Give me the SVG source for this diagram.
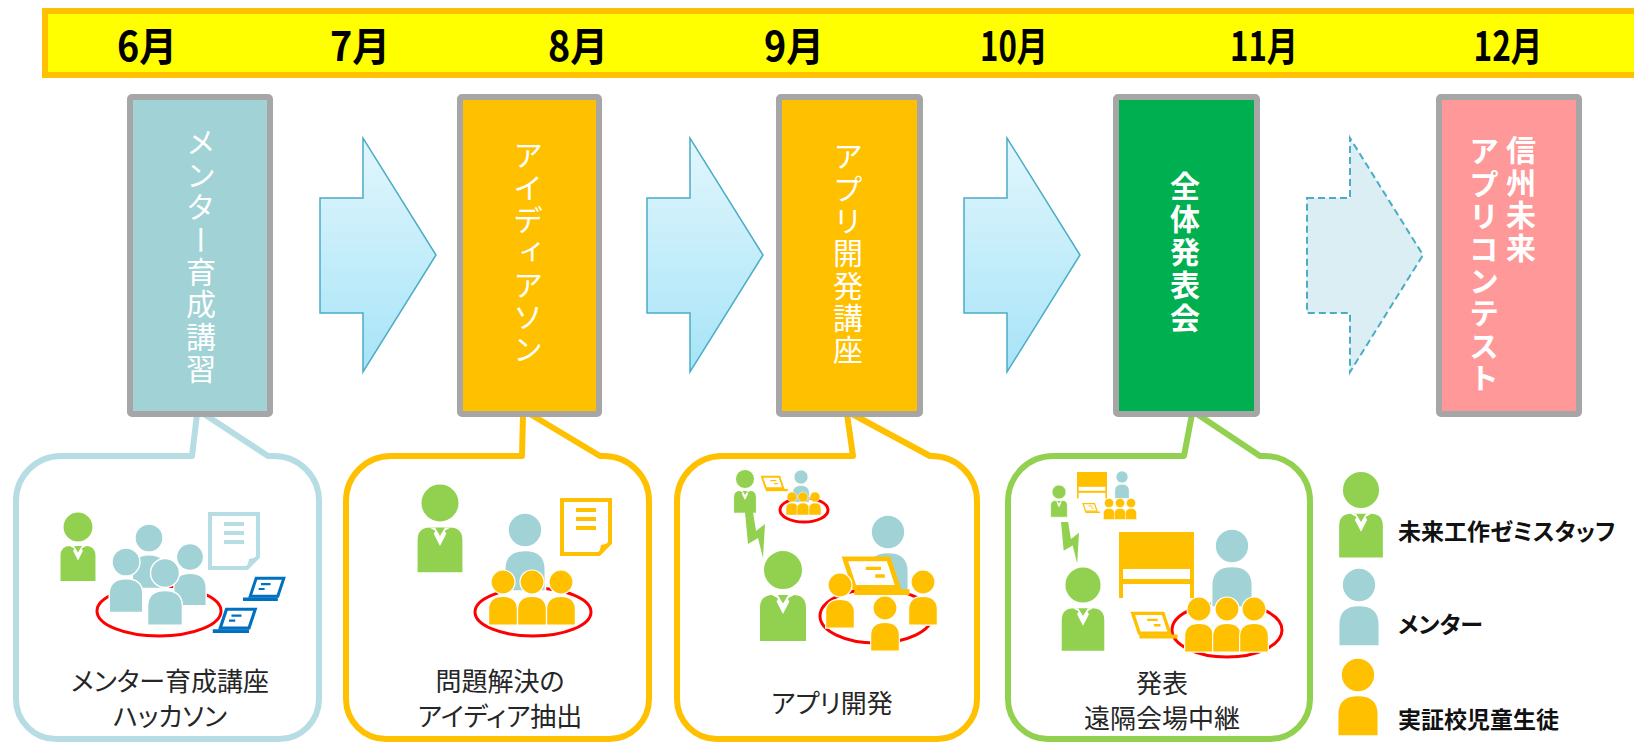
<svg xmlns="http://www.w3.org/2000/svg" xmlns:xlink="http://www.w3.org/1999/xlink" width="1634" height="745" viewBox="0 0 1634 745">
  <style>
    .month { font-family: "Noto Sans CJK JP", "Liberation Sans", sans-serif; font-weight: 700; font-size: 40px; fill: #000; text-anchor: middle; }
    .box { stroke: #A6A6A6; stroke-width: 6; }
    .vtext { font-family: "Noto Sans CJK JP", sans-serif; font-size: 30px; fill: #fff; writing-mode: vertical-rl; letter-spacing: 2.4px; }
    .bubble { fill: #fff; stroke-width: 6; stroke-linejoin: round; }
    .caption { font-family: "Noto Sans CJK JP", sans-serif; font-size: 26px; fill: #262626; text-anchor: middle; font-feature-settings: "palt"; }
    .legend { font-family: "Noto Sans CJK JP", sans-serif; font-size: 23px; font-weight: 700; fill: #111; font-feature-settings: "palt"; }
    .ring { fill: none; stroke: #FF0000; stroke-width: 3; }
    .arrow { fill: url(#arrowFill); stroke: #4BACC6; stroke-width: 1.5; }
    .arrow-next { fill: #DAEEF3; stroke: #4BACC6; stroke-width: 2; stroke-dasharray: 7 4; }
  </style>
  <defs>
    <linearGradient id="arrowFill" x1="0" y1="0" x2="0" y2="1">
      <stop offset="0" stop-color="#E2F6FD"/>
      <stop offset="1" stop-color="#A6E4F7"/>
    </linearGradient>
    <path id="arrowShape" d="M0,198 H43 V138 L116,255 L43,372 V313 H0 Z"/>
    <!-- people: head radius 10 at the origin, body below -->
    <g id="staff" stroke="#fff" stroke-width="1">
      <circle r="10" fill="#92D050"/>
      <path d="M-12,36 V19 Q-12,12 -5,12 H5 Q12,12 12,19 V36 Z" fill="#92D050"/>
      <path d="M-5.5,12.5 L-2.4,14.2 L-3.2,15.8 L0,22 L3.2,15.8 L2.4,14.2 L5.5,12.5 L2.6,12.5 L0,16.8 L-2.6,12.5 Z" fill="#fff" stroke="none"/>
    </g>
    <g id="mentor" fill="#A0D2D6" stroke="#fff" stroke-width="1">
      <circle r="10"/>
      <path d="M-12,36 V23 Q-12,12 0,12 Q12,12 12,23 V36 Z"/>
    </g>
    <g id="student" fill="#FFC000" stroke="#fff" stroke-width="1">
      <circle r="10"/>
      <path d="M-12,36 V23 Q-12,12 0,12 Q12,12 12,23 V36 Z"/>
    </g>
    <!-- laptop drawn in the current stroke colour -->
    <g id="laptop" fill="none">
      <polygon points="6,1 29,1 24,16 1,16" fill="#fff" stroke-width="2.5" stroke-linejoin="miter"/>
      <line x1="-5" y1="18.5" x2="24" y2="18.5" stroke-width="3"/>
      <path d="M10,6 H18 M8,10 H13" stroke-width="1.8"/>
    </g>
    <!-- sheet of paper with a folded corner -->
    <g id="doc">
      <path d="M0,0 H48 V43 L37,54 H0 Z" fill="#fff" stroke="currentColor" stroke-width="4"/>
      <path d="M37,54 L39,45 L48,43 Z" fill="currentColor"/>
      <rect x="14" y="8" width="20" height="4" fill="currentColor"/>
      <rect x="14" y="17" width="20" height="4" fill="currentColor"/>
      <rect x="14" y="26" width="20" height="4" fill="currentColor"/>
    </g>
    <!-- whiteboard on legs -->
    <g id="board" fill="#FFC000">
      <rect x="0" y="0" width="75" height="52"/>
      <rect x="4" y="37" width="67" height="10" fill="#fff"/>
      <rect x="0" y="52" width="4" height="14"/>
      <rect x="71" y="52" width="4" height="14"/>
    </g>
    <polygon id="bolt" points="0,0 8,0 11,19 20,12 18,46 13,26 3,32" fill="#92D050"/>
  </defs>

  <rect width="1634" height="745" fill="#fff"/>

  <!-- month band -->
  <g id="timeline">
    <rect x="45" y="11" width="1620" height="64" fill="#FFFF00" stroke="#FFC000" stroke-width="6"/>
    <text class="month" x="147" y="61" textLength="60" lengthAdjust="spacingAndGlyphs">6月</text>
    <text class="month" x="360" y="61" textLength="60" lengthAdjust="spacingAndGlyphs">7月</text>
    <text class="month" x="578" y="61" textLength="60" lengthAdjust="spacingAndGlyphs">8月</text>
    <text class="month" x="794" y="61" textLength="60" lengthAdjust="spacingAndGlyphs">9月</text>
    <text class="month" x="1014" y="61" textLength="68" lengthAdjust="spacingAndGlyphs">10月</text>
    <text class="month" x="1264" y="61" textLength="68" lengthAdjust="spacingAndGlyphs">11月</text>
    <text class="month" x="1508" y="61" textLength="69" lengthAdjust="spacingAndGlyphs">12月</text>
  </g>

  <!-- callout bubbles (drawn under the boxes so the pointer tips tuck in) -->
  <g id="bubble-mentor">
    <path class="bubble" stroke="#B6DDE3" d="M61,456 H192 L197,414 H204 L268,456 H274 A45,45 0 0 1 319,501 V699 A40,40 0 0 1 279,739 H56 A40,40 0 0 1 16,699 V501 A45,45 0 0 1 61,456 Z"/>
    <ellipse class="ring" cx="159" cy="611" rx="62" ry="25"/>
    <use href="#staff" transform="translate(78,527) scale(1.52)"/>
    <use href="#mentor" transform="translate(149,538) scale(1.4)"/>
    <use href="#mentor" transform="translate(126,562) scale(1.4)"/>
    <use href="#mentor" transform="translate(190,557) scale(1.35)"/>
    <use href="#mentor" transform="translate(165,573) scale(1.45)"/>
    <use href="#doc" color="#B6DDE3" transform="translate(210,514)"/>
    <use href="#laptop" stroke="#0070C0" transform="translate(249,577) scale(1.2)"/>
    <use href="#laptop" stroke="#0070C0" transform="translate(219,608) scale(1.25)"/>
    <text class="caption" x="170" y="691">メンター育成講座</text>
    <text class="caption" x="170" y="726">ハッカソン</text>
  </g>

  <g id="bubble-ideathon">
    <path class="bubble" stroke="#FFC000" d="M391,456 H522 L523,414 H530 L600,456 H604 A45,45 0 0 1 649,501 V699 A40,40 0 0 1 609,739 H386 A40,40 0 0 1 346,699 V501 A45,45 0 0 1 391,456 Z"/>
    <ellipse class="ring" cx="533" cy="612" rx="58" ry="24"/>
    <use href="#staff" transform="translate(440,503) scale(1.95)"/>
    <use href="#mentor" transform="translate(525,530) scale(1.7)"/>
    <use href="#student" transform="translate(503,582) scale(1.2)"/>
    <use href="#student" transform="translate(532,582) scale(1.2)"/>
    <use href="#student" transform="translate(561,582) scale(1.2)"/>
    <use href="#doc" color="#FFC000" transform="translate(562,500)"/>
    <text class="caption" x="500" y="691">問題解決の</text>
    <text class="caption" x="500" y="726">アイディア抽出</text>
  </g>

  <g id="bubble-appdev">
    <path class="bubble" stroke="#FFC000" d="M722,456 H853 L847,414 H852 L930,456 H932 A45,45 0 0 1 977,501 V699 A40,40 0 0 1 937,739 H717 A40,40 0 0 1 677,699 V501 A45,45 0 0 1 722,456 Z"/>
    <!-- remote room -->
    <ellipse class="ring" cx="804" cy="510" rx="24" ry="12" stroke-width="2.5"/>
    <use href="#staff" transform="translate(745,479) scale(0.95)"/>
    <use href="#laptop" stroke="#FFC000" transform="translate(784,476) scale(-0.76,0.76)"/>
    <use href="#mentor" transform="translate(801,477) scale(0.7)"/>
    <use href="#student" transform="translate(792,497) scale(0.5)"/>
    <use href="#student" transform="translate(803,497) scale(0.5)"/>
    <use href="#student" transform="translate(815,497) scale(0.5)"/>
    <use href="#bolt" transform="translate(745,512)"/>
    <!-- main room -->
    <ellipse class="ring" cx="876" cy="616" rx="56" ry="27"/>
    <use href="#staff" transform="translate(783,570) scale(2)"/>
    <use href="#mentor" transform="translate(888,532) scale(1.7)"/>
    <use href="#laptop" stroke="#FFC000" transform="translate(900,557) scale(-1.9,1.9)"/>
    <use href="#student" transform="translate(840,585) scale(1.2)"/>
    <use href="#student" transform="translate(923,582) scale(1.2)"/>
    <use href="#student" transform="translate(885,608) scale(1.2)"/>
    <text class="caption" x="832" y="713">アプリ開発</text>
  </g>

  <g id="bubble-presentation">
    <path class="bubble" stroke="#92D050" d="M1053,456 H1184 L1192,414 H1197 L1260,456 H1265 A45,45 0 0 1 1310,501 V699 A40,40 0 0 1 1270,739 H1048 A40,40 0 0 1 1008,699 V501 A45,45 0 0 1 1053,456 Z"/>
    <!-- remote venue -->
    <use href="#staff" transform="translate(1059,492) scale(0.7)"/>
    <use href="#board" transform="translate(1077,472) scale(0.4)"/>
    <use href="#mentor" transform="translate(1122,477) scale(0.6)"/>
    <use href="#laptop" stroke="#FFC000" transform="translate(1097.5,503) scale(-0.5,0.5)"/>
    <use href="#student" transform="translate(1109,503) scale(0.46)"/>
    <use href="#student" transform="translate(1120,503) scale(0.46)"/>
    <use href="#student" transform="translate(1131,503) scale(0.46)"/>
    <use href="#bolt" transform="translate(1061,522) scale(0.9)"/>
    <!-- main venue -->
    <ellipse class="ring" cx="1227" cy="630" rx="55" ry="27"/>
    <use href="#staff" transform="translate(1083,585) scale(1.85)"/>
    <use href="#board" transform="translate(1119,532)"/>
    <use href="#mentor" transform="translate(1232,546) scale(1.7)"/>
    <use href="#laptop" stroke="#FFC000" transform="translate(1171,612) scale(-1.32,1.32)"/>
    <use href="#student" transform="translate(1199,609) scale(1.2)"/>
    <use href="#student" transform="translate(1227,609) scale(1.2)"/>
    <use href="#student" transform="translate(1254,609) scale(1.2)"/>
    <text class="caption" x="1162" y="693">発表</text>
    <text class="caption" x="1162" y="728">遠隔会場中継</text>
  </g>

  <!-- flow arrows between stages -->
  <g id="connectors">
    <use href="#arrowShape" class="arrow" transform="translate(320,0)"/>
    <use href="#arrowShape" class="arrow" transform="translate(647,0)"/>
    <use href="#arrowShape" class="arrow" transform="translate(964,0)"/>
    <use href="#arrowShape" class="arrow-next" transform="translate(1307,0)"/>
  </g>

  <!-- stage boxes -->
  <g id="stage-mentor-course">
    <rect class="box" x="130" y="97" width="140" height="317" rx="2" fill="#A0D2D6"/>
    <text class="vtext" x="201" y="127">メンター育成講習</text>
  </g>
  <g id="stage-ideathon">
    <rect class="box" x="460" y="97" width="139" height="317" rx="2" fill="#FFC000"/>
    <text class="vtext" x="528" y="140" style="letter-spacing:2.3px">アイディアソン</text>
  </g>
  <g id="stage-app-course">
    <rect class="box" x="779" y="97" width="141" height="317" rx="2" fill="#FFC000"/>
    <text class="vtext" x="848" y="141" style="letter-spacing:2.3px">アプリ開発講座</text>
  </g>
  <g id="stage-presentation">
    <rect class="box" x="1116" y="97" width="141" height="317" rx="2" fill="#00B050"/>
    <text class="vtext" x="1185" y="171" style="letter-spacing:3px;font-weight:700">全体発表会</text>
  </g>
  <g id="stage-contest">
    <rect class="box" x="1439" y="97" width="140" height="317" rx="2" fill="#FF9999"/>
    <text class="vtext" x="1521" y="135" style="font-weight:700">信州未来</text>
    <text class="vtext" x="1484" y="136" style="font-weight:700">アプリコンテスト</text>
  </g>

  <!-- legend -->
  <g id="legend">
    <use href="#staff" transform="translate(1361,490) scale(1.9)"/>
    <text class="legend" x="1398" y="540">未来工作ゼミスタッフ</text>
    <use href="#mentor" transform="translate(1359,585) scale(1.7)"/>
    <text class="legend" x="1398" y="633">メンター</text>
    <use href="#student" transform="translate(1358,675) scale(1.7)"/>
    <text class="legend" x="1398" y="728">実証校児童生徒</text>
  </g>
</svg>
